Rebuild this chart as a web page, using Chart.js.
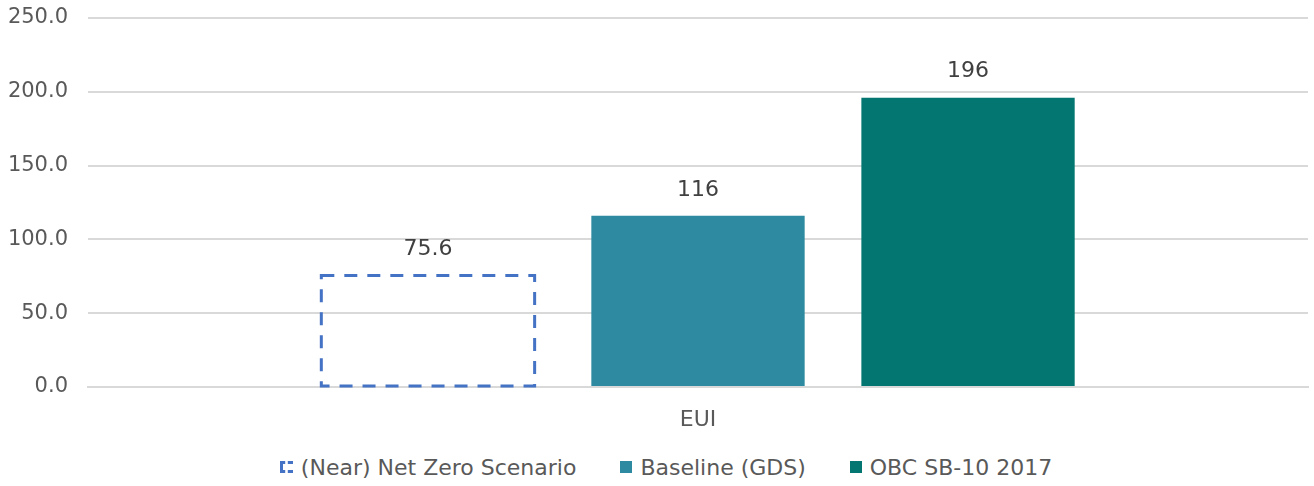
<!DOCTYPE html>
<html>
<head>
<meta charset="utf-8">
<script src="https://cdn.jsdelivr.net/npm/chart.js@4/dist/chart.umd.min.js"></script>
<style>
  html, body { margin: 0; padding: 0; background: #fff; }
  #wrap { width: 1314px; height: 486px; position: relative; }
  #plot { width: 1314px; height: 440px; position: relative; }
  #legend {
    display: flex; justify-content: center; align-items: center;
    margin-top: 14px; padding-left: 18px; height: 26px;
    font: 22px 'DejaVu Sans', sans-serif; color: #595959;
  }
  #legend .item { display: flex; align-items: center; margin: 0 22px; white-space: nowrap; }
  #legend .box { width: 12px; height: 12px; margin-right: 8px; box-sizing: border-box; }
  #legend .box.dashed { border: 3px dashed #4472C4; border-right: none; width: 13px; }
</style>
</head>
<body>
<div id="wrap">
  <div id="plot"><canvas id="eui"></canvas></div>
  <div id="legend"></div>
</div>
<script>
const categories = ['EUI'];
const seriesNames = ['(Near) Net Zero Scenario', 'Baseline (GDS)', 'OBC SB-10 2017'];
const netZero = [75.6];
const baseline = [116];
const obc = [196];
const valueLabels = ['75.6', '116', '196'];

const FONT = "'DejaVu Sans', sans-serif";
const TEXT = '#595959';

// dashed outline for the first series + value labels above the bars
const barExtras = {
    id: 'barExtras',
    afterDatasetsDraw(chart) {
        const ctx = chart.ctx;
        const dash = chart.getDatasetMeta(0).data[0];
        ctx.save();
        ctx.strokeStyle = '#4472C4';
        ctx.lineWidth = 3;
        ctx.setLineDash([13, 10]);
        ctx.strokeRect(dash.x - dash.width / 2, dash.y, dash.width, dash.base - dash.y);
        ctx.restore();

        ctx.save();
        ctx.font = '22px ' + FONT;
        ctx.fillStyle = '#404040';
        ctx.textAlign = 'center';
        ctx.textBaseline = 'middle';
        chart.data.datasets.forEach((ds, i) => {
            const bar = chart.getDatasetMeta(i).data[0];
            ctx.fillText(valueLabels[i], bar.x, bar.y - 26);
        });
        ctx.restore();
    }
};

const EUI = document.getElementById("eui");
const euiChart = new Chart(EUI, {
    type: 'bar',
    data: {
        labels: categories,
        datasets: [{
            label: seriesNames[0],
            data: netZero,
            backgroundColor: 'rgba(0,0,0,0)',
            borderWidth: 0,
        }, {
            label: seriesNames[1],
            data: baseline,
            backgroundColor: '#2E8AA0',
        }, {
            label: seriesNames[2],
            data: obc,
            backgroundColor: '#037672',
        }]
    },
    options: {
        responsive: true,
        maintainAspectRatio: false,
        animation: false,
        categoryPercentage: 0.664,
        barPercentage: 0.79,
        layout: {
            padding: { left: 0, right: 6, top: 18, bottom: 9 }
        },
        plugins: {
            tooltip: { enabled: false },
            legend: { display: false }
        },
        scales: {
            x: {
                grid: { display: false },
                border: { color: '#d9d9d9', width: 2 },
                ticks: { font: { size: 22, family: FONT }, color: TEXT, padding: 12 },
                afterFit(scale) {
                    scale.height = 44;
                }
            },
            y: {
                min: 0,
                max: 250,
                ticks: {
                    stepSize: 50,
                    font: { size: 21, family: FONT },
                    color: TEXT,
                    padding: 20,
                    callback: v => v.toFixed(1)
                },
                grid: { color: '#d9d9d9', lineWidth: 2, drawTicks: false },
                border: { display: false },
                afterFit(scale) {
                    scale.width = 88;
                    scale.paddingTop = 0;
                    scale.paddingBottom = 0;
                }
            }
        }
    },
    plugins: [barExtras]
});

// html legend
const legendEl = document.getElementById('legend');
euiChart.data.datasets.forEach((ds, i) => {
    const item = document.createElement('div');
    item.className = 'item';
    const box = document.createElement('span');
    box.className = i === 0 ? 'box dashed' : 'box';
    if (i > 0) box.style.background = ds.backgroundColor;
    const label = document.createElement('span');
    label.textContent = ds.label;
    item.appendChild(box);
    item.appendChild(label);
    legendEl.appendChild(item);
});
</script>
</body>
</html>
